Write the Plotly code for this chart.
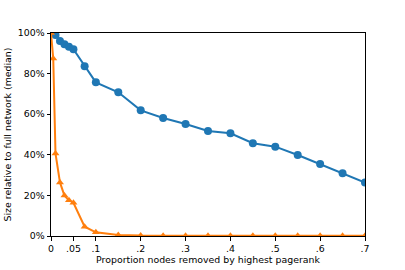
import plotly.graph_objects as go

x_blue = [0, 0.01, 0.02, 0.03, 0.04, 0.05, 0.075, 0.1, 0.15, 0.2, 0.25, 0.3, 0.35, 0.4, 0.45, 0.5, 0.55, 0.6, 0.65, 0.7]
y_blue = [1.0, 0.99, 0.96, 0.944, 0.932, 0.92, 0.836, 0.757, 0.708, 0.619, 0.581, 0.552, 0.517, 0.506, 0.457, 0.44, 0.399, 0.355, 0.309, 0.263]

x_orange = [0, 0.005, 0.01, 0.02, 0.03, 0.04, 0.05, 0.075, 0.1, 0.15, 0.2, 0.25, 0.3, 0.35, 0.4, 0.45, 0.5, 0.55, 0.6, 0.65, 0.7]
y_orange = [1.0, 0.875, 0.407, 0.264, 0.199, 0.176, 0.164, 0.046, 0.018, 0.005, 0.002, 0.001, 0.001, 0.001, 0.001, 0.001, 0.001, 0.001, 0.001, 0.001, 0.001]

x_tickvals = [0, 0.05, 0.1, 0.2, 0.3, 0.4, 0.5, 0.6, 0.7]
x_ticktext = ["0", ".05", ".1", ".2", ".3", ".4", ".5", ".6", ".7"]
y_tickvals = [0, 0.2, 0.4, 0.6, 0.8, 1.0]
y_ticktext = ["0%", "20%", "40%", "60%", "80%", "100%"]

FS = 9.4
fig = go.Figure()
fig.add_trace(go.Scatter(x=x_blue, y=y_blue, mode="lines+markers",
                         line=dict(color="#1f77b4", width=2),
                         marker=dict(symbol="circle", size=8, color="#1f77b4")))
fig.add_trace(go.Scatter(x=x_orange, y=y_orange, mode="lines+markers",
                         line=dict(color="#ff7f0e", width=2),
                         marker=dict(symbol="triangle-up", size=7, color="#ff7f0e")))

axis_common = dict(showgrid=False, zeroline=False, showline=True, linecolor="black",
                   linewidth=1, mirror=True, ticks="outside", ticklen=3.5, tickwidth=1,
                   tickcolor="black", automargin=False,
                   tickfont=dict(size=FS, color="black", family="DejaVu Sans"))

fig.update_xaxes(range=[0, 0.7], tickvals=x_tickvals, ticktext=x_ticktext,
                 title=dict(text="Proportion nodes removed by highest pagerank",
                            font=dict(size=FS, color="black", family="DejaVu Sans"), standoff=2),
                 **axis_common)
fig.update_yaxes(range=[0, 1], tickvals=y_tickvals, ticktext=y_ticktext,
                 title=dict(text="Size relative to full network (median)",
                            font=dict(size=FS, color="black", family="DejaVu Sans"), standoff=4),
                 **axis_common)

fig.update_layout(width=405, height=270, showlegend=False,
                  margin=dict(l=51, r=40, t=33, b=34),
                  plot_bgcolor="white", paper_bgcolor="white",
                  font=dict(family="DejaVu Sans", size=FS, color="black"))

fig.write_html("out.html", config={"displayModeBar": False},
               post_script="document.body.style.margin='0';")
